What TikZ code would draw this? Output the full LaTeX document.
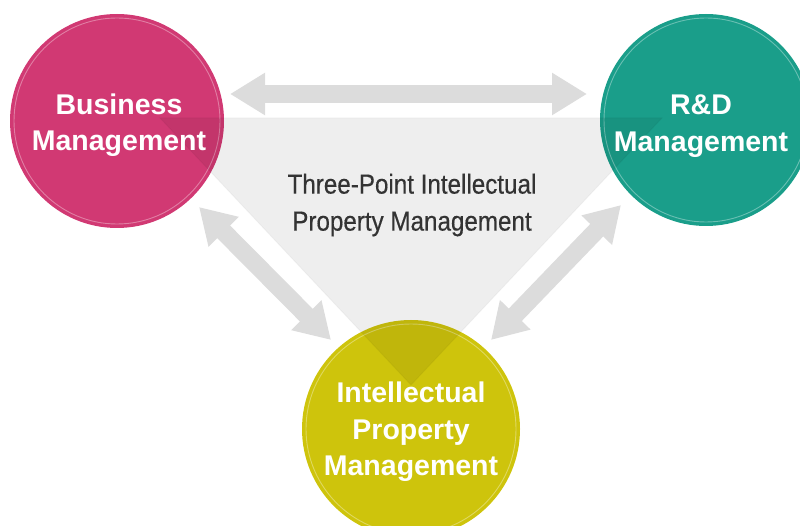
\documentclass[tikz,border=0pt]{standalone}
\usepackage{fontspec}
\setmainfont{Liberation Sans}
\newfontfamily\condfont[FakeStretch=0.88,FakeBold=0.4]{Liberation Sans}
\usetikzlibrary{arrows.meta}
\definecolor{bizpink}{HTML}{D13973}
\definecolor{rdteal}{HTML}{1A9E8A}
\definecolor{ipyellow}{HTML}{CEC40C}
\definecolor{arrowgray}{HTML}{DCDCDC}
\definecolor{labelgray}{HTML}{333333}
\begin{document}
\begin{tikzpicture}[x=1pt,y=-1pt,
  hub/.style={circle, inner sep=0pt, minimum size=214pt},
  hubtext/.style={text=white, align=center, inner sep=0pt,
    font=\bfseries\fontsize{28.5}{36.5}\selectfont},
  ring/.style={draw=white, draw opacity=0.35, line width=0.9pt},
  link/.style={draw=arrowgray, line width=18pt,
    {Triangle[width=40pt,length=35pt]}-{Triangle[width=40pt,length=35pt]}},
  centertext/.style={text=labelgray, align=center,
    font=\condfont\fontsize{27.5}{37}\selectfont}
]
\useasboundingbox (0,0) rectangle (800,526);
\clip (0,0) rectangle (800,526);

% arrows
\coordinate (topL) at (230,94);
\coordinate (topR) at (587,94);
\coordinate (lUp) at (199,207);
\coordinate (lDn) at (331,340);
\coordinate (rUp) at (621,205);
\coordinate (rDn) at (491,340);
\draw[link] (topL) -- (topR);
\draw[link] (lUp) -- (lDn);
\draw[link] (rUp) -- (rDn);

% circles
\node[hub, fill=bizpink] (biz) at (117,121) {};
\node[hub, fill=rdteal, minimum size=212pt] (rd) at (706,120) {};
\node[hub, fill=ipyellow, minimum size=218pt] (ip) at (411,429) {};
\draw[ring] (biz.center) circle (103);
\draw[ring] (rd.center) circle (102);
\draw[ring] (ip.center) circle (105);

% central triangle
\fill[black, fill opacity=0.065] (160,118) -- (662,118) -- (411,385) -- cycle;
\draw[black, draw opacity=0.03, line width=1pt] (160,118) -- (662,118) -- (411,385) -- cycle;

% labels
\node[hubtext] (bizlabel) at ([xshift=2pt,yshift=-4pt]biz.center) {Business\\Management};
\node[hubtext] (rdlabel) at ([xshift=-5pt,yshift=-6pt]rd.center) {R\&D\\Management};
\node[hubtext] (iplabel) at ([yshift=-3pt]ip.center) {Intellectual\\Property\\Management};
\node[centertext] (core) at (412,205) {Three-Point Intellectual\\Property Management};
\end{tikzpicture}
\end{document}
